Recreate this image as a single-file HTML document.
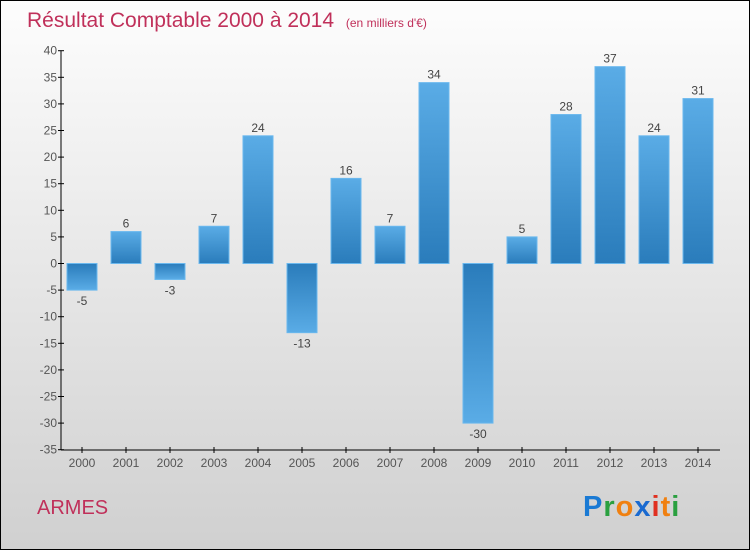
<!DOCTYPE html>
<html><head><meta charset="utf-8"><style>
body{margin:0;width:750px;height:550px;overflow:hidden}
svg{display:block}
text{font-family:"Liberation Sans",sans-serif}
</style></head><body>
<svg width="750" height="550">
<defs>
<linearGradient id="bg" x1="0" y1="0" x2="0" y2="1"><stop offset="0" stop-color="#fdfdfd"/><stop offset="1" stop-color="#d0d0d0"/></linearGradient>
<linearGradient id="pos" x1="0" y1="0" x2="0" y2="1"><stop offset="0" stop-color="#5aace6"/><stop offset="1" stop-color="#2a7cbb"/></linearGradient>
<linearGradient id="neg" x1="0" y1="0" x2="0" y2="1"><stop offset="0" stop-color="#2a7cbb"/><stop offset="1" stop-color="#5aace6"/></linearGradient>
</defs>
<rect x="0.5" y="0.5" width="749" height="549" fill="url(#bg)" stroke="#000"/>
<text x="27" y="27" font-size="21" fill="#c0305a">Résultat Comptable 2000 à 2014 <tspan font-size="12" dx="6">(en milliers d'€)</tspan></text>
<g id="plot"></g>
<text x="37" y="514" font-size="20" fill="#c0305a">ARMES</text>
<text x="583" y="516" font-size="29" font-weight="bold" letter-spacing="1"><tspan fill="#1a7ad4">P</tspan><tspan fill="#2aa040">r</tspan><tspan fill="#f08010">o</tspan><tspan fill="#1a6ad0">x</tspan><tspan fill="#e03020">i</tspan><tspan fill="#f08010">t</tspan><tspan fill="#2aa040">i</tspan></text>
</svg>
<script>
const categories=["2000","2001","2002","2003","2004","2005","2006","2007","2008","2009","2010","2011","2012","2013","2014"];
const values=[-5,6,-3,7,24,-13,16,7,34,-30,5,28,37,24,31];
const yTicks=[40,35,30,25,20,15,10,5,0,-5,-10,-15,-20,-25,-30,-35];
const ns="http://www.w3.org/2000/svg";
const g=document.getElementById("plot");
const y=v=>263.5-(v*5.32);
const x=i=>82+i*44;
function mk(t,a,txt){const e=document.createElementNS(ns,t);for(const k in a)e.setAttribute(k,a[k]);if(txt!==undefined)e.textContent=txt;g.appendChild(e);return e;}
let ax=mk("line",{x1:61,y1:y(40),x2:61,y2:y(-35),stroke:"#000"});


let xa=mk("line",{x1:61,y1:450,x2:720,y2:450,stroke:"#000"});


yTicks.forEach(t=>{
 let l=mk("line",{x1:58,y1:y(t),x2:64,y2:y(t),stroke:"#000"});
 
 
 let tx=mk("text",{x:57,y:y(t)+4,"font-size":12,fill:"#555","text-anchor":"end"},t);
 
 
});
categories.forEach((c,i)=>{
 let l=mk("line",{x1:x(i),y1:447,x2:x(i),y2:453,stroke:"#000"});
 
 
 let tx=mk("text",{x:x(i),y:467,"font-size":12,fill:"#555","text-anchor":"middle"},c);
 
 
 const v=values[i],top=Math.min(y(v),y(0)),h=Math.abs(y(v)-y(0));
 let r=mk("rect",{x:x(i)-15,y:top,width:30,height:h,fill:v>=0?"url(#pos)":"url(#neg)",stroke:"#6ab8ee","stroke-width":1});
 
 
 let vl=mk("text",{x:x(i),y:v>=0?y(v)-4:y(v)+15,"font-size":12,fill:"#444","text-anchor":"middle"},v);
 
 
});
</script>
</body></html>
